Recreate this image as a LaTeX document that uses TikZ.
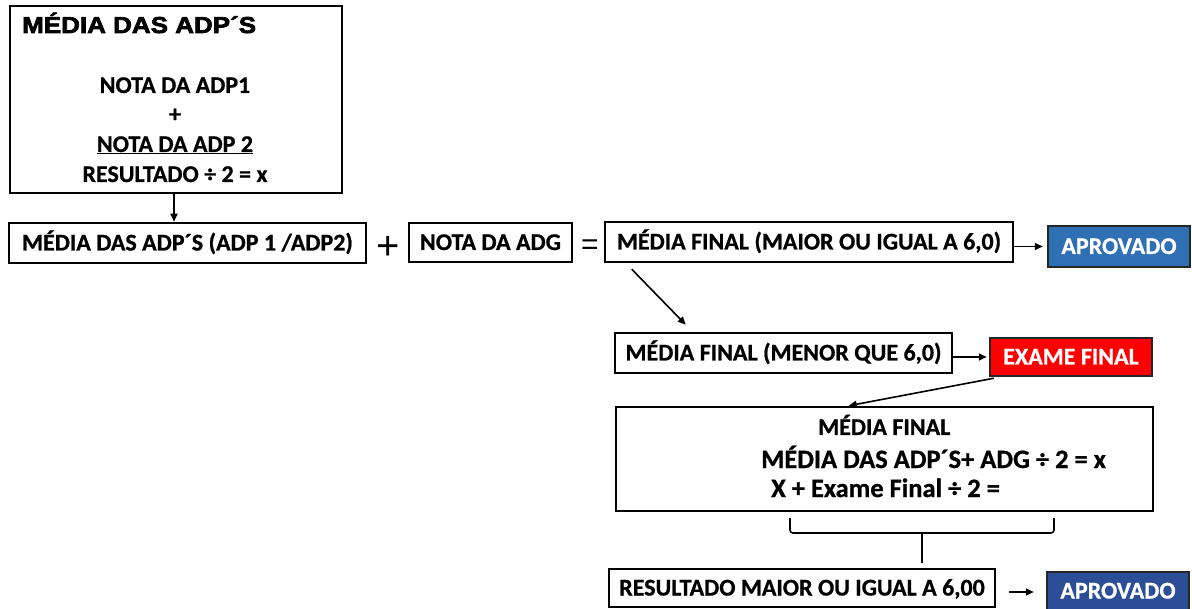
\documentclass[tikz,border=0pt]{standalone}
\usepackage{fontspec}
\setmainfont{Carlito}[BoldFeatures={FakeBold=0.8}]
\newfontfamily\titlefont{Liberation Sans}[FakeStretch=1.13, BoldFeatures={FakeBold=3}]
\newfontfamily\symfont{Liberation Sans}
\usetikzlibrary{arrows.meta,calc}
\definecolor{aprblue}{RGB}{47,111,180}
\definecolor{aprdark}{RGB}{44,78,150}
\definecolor{exred}{RGB}{255,0,0}
\begin{document}
\begin{tikzpicture}[x=1pt,y=-1pt,
  every node/.style={inner sep=0pt, font=\fontsize{24}{28}\selectfont\bfseries},
  box/.style={draw=black, line width=2.5pt, text height=15pt, text depth=0pt},
  colbox/.style={box, draw=black!85, text=white},
  conn/.style={line width=1.6pt, -{Triangle[length=8pt,width=7pt]}},
  bracket/.style={line width=1.6pt, rounded corners=3pt},
  txt/.style={anchor=base},
  bigtxt/.style={anchor=base west, font=\fontsize{26.5}{30}\selectfont\bfseries}
]
\useasboundingbox (0,0) rectangle (1192,609);
% box 1
\node[box, minimum width=332pt, minimum height=187pt] (b1) at (176,99.5) {};
\node[anchor=base west, font=\titlefont\fontsize{23}{27}\selectfont\bfseries] (title) at (22,33) {MÉDIA DAS ADP´S};
\node[txt] (l1) at (175,93) {NOTA DA ADP1};
\node[txt] (l2) at (175,122) {+};
\node[txt] (l3) at (175,152) {\underline{NOTA DA ADP 2}};
\node[txt] (l4) at (175,182) {RESULTADO ÷ 2 = x};
% row 2
\node[box, minimum width=357pt, minimum height=40pt] (b2) at (187.5,243) {MÉDIA DAS ADP´S (ADP 1 /ADP2)};
\node[font=\symfont\fontsize{40}{44}\selectfont] (plus) at (388,248) {+};
\node[box, minimum width=163pt, minimum height=39pt] (b3) at (490.5,242.5) {NOTA DA ADG};
\node[font=\symfont\fontsize{30}{34}\selectfont] (eq) at (590,247) {=};
\node[box, minimum width=408pt, minimum height=40pt] (b4) at (809,242) {MÉDIA FINAL (MAIOR OU IGUAL A 6,0)};
\node[colbox, fill=aprblue, minimum width=142pt, minimum height=41pt] (a1) at (1119,246.5) {APROVADO};
% row 3
\node[box, minimum width=337pt, minimum height=40pt] (b5) at (783.5,353) {MÉDIA FINAL (MENOR QUE 6,0)};
\node[colbox, fill=exred, minimum width=162pt, minimum height=38pt] (ex) at (1071,357) {EXAME FINAL};
% box 6
\node[box, minimum width=537pt, minimum height=104pt] (b6) at (884.5,459) {};
\node[anchor=base west] (m1) at (818,435) {MÉDIA FINAL};
\node[bigtxt] (m2) at (761,468) {MÉDIA DAS ADP´S+ ADG ÷ 2 = x};
\node[bigtxt] (m3) at (771,497) {X + Exame Final ÷ 2 =};
% row 4
\node[box, minimum width=386pt, minimum height=38pt] (b7) at (802,588) {RESULTADO MAIOR OU IGUAL A 6,00};
\node[colbox, fill=aprdark, minimum width=142pt, minimum height=38pt] (a2) at (1118,591) {APROVADO};
% connectors
\coordinate (ax) at (174,0);
\draw[conn] (b1.south -| ax) -- (b2.north -| ax);
\draw[conn, shorten >=4pt] (b4.east |- a1.west) -- (a1.west);
\coordinate (d1) at ($(b4.south west)+(28,6)$);
\coordinate (d2) at ($(b5.north west)+(72,-7)$);
\draw[conn] (d1) -- (d2);
\draw[conn, shorten >=2pt] (b5.east |- ex.west) -- (ex.west);
\coordinate (e1) at ($(ex.south west)+(5,1)$);
\coordinate (e2) at ($(b6.north west)+(234,0)$);
\draw[conn] (e1) -- (e2);
\coordinate (brL) at (790,518);
\coordinate (brR) at (1054,518);
\coordinate (brM) at (922,533);
\coordinate (brS) at (922,563);
\draw[bracket] (brL) -- (brL |- brM) -- (brR |- brM) -- (brR);
\draw[line width=1.6pt] (brM) -- (brS);
\coordinate (ay) at (0,592);
\draw[conn, shorten <=13pt, shorten >=12pt] (b7.east |- ay) -- (a2.west |- ay);
\end{tikzpicture}
\end{document}
